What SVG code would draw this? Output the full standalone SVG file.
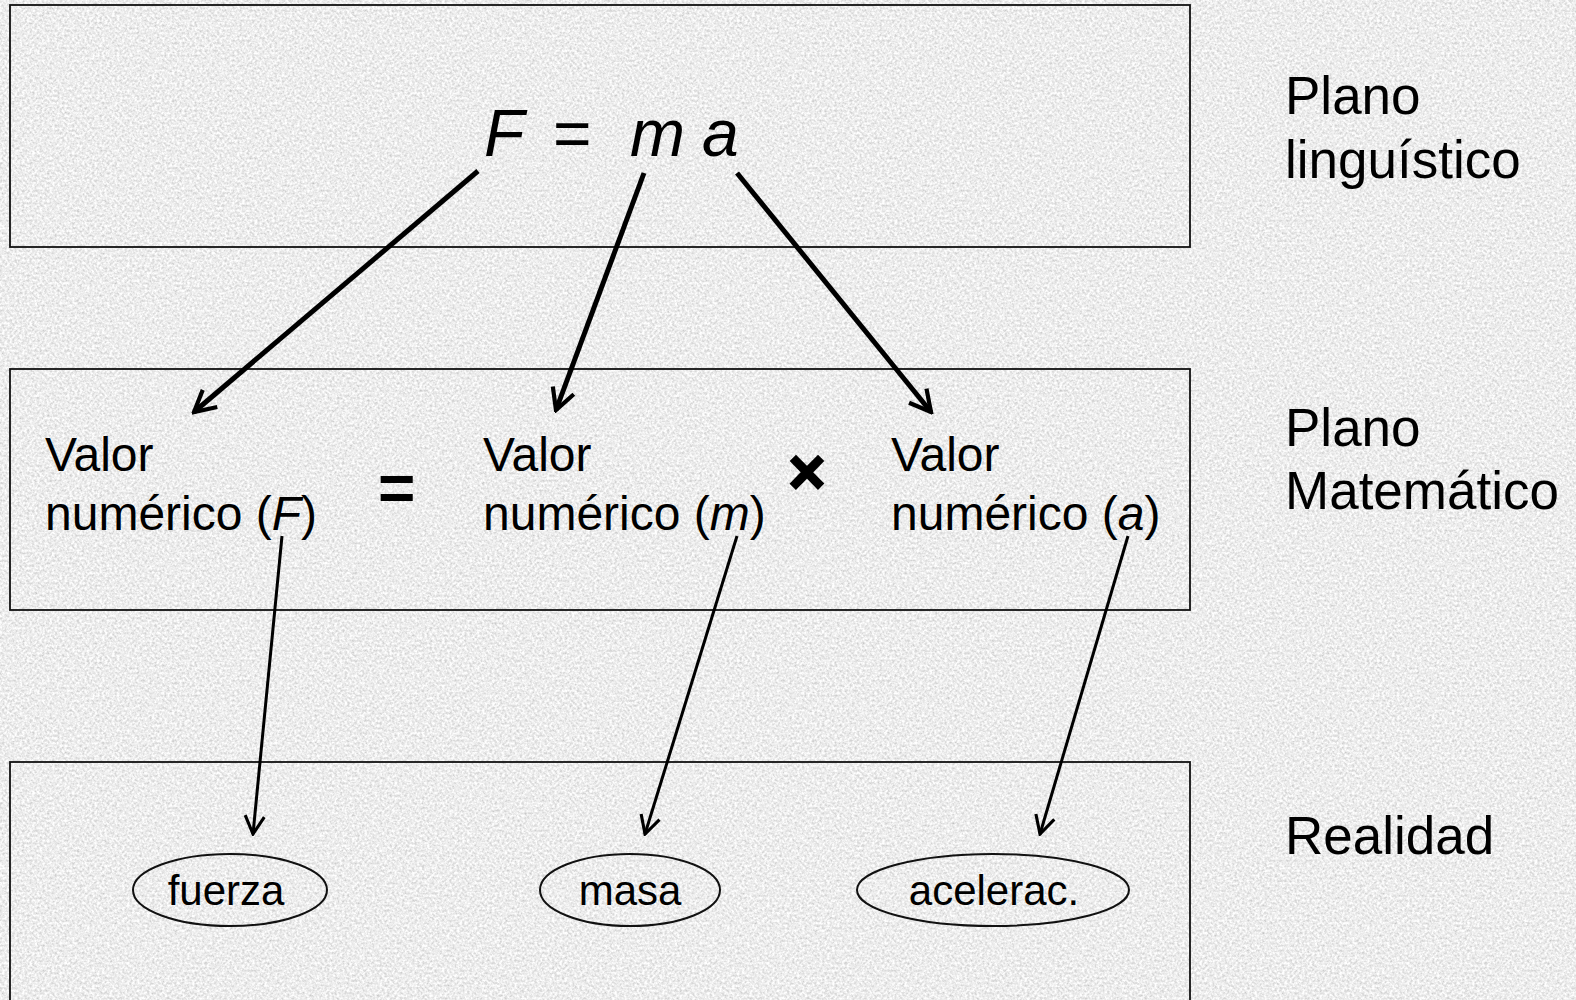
<svg xmlns="http://www.w3.org/2000/svg" width="1576" height="1000" viewBox="0 0 1576 1000">
<style>
.box{fill:none;stroke:#111;stroke-width:1.8}
.t{font-family:"Liberation Sans",Arial,sans-serif;fill:#000}
.lbl{font-size:53px}
.val{font-size:48px}
.ell{fill:none;stroke:#111;stroke-width:2}
.el{font-size:42px;text-anchor:middle}
.thick{fill:none;stroke:#000;stroke-width:5}
.thin{fill:none;stroke:#000;stroke-width:3}
</style>
<defs>
<filter id="grain" x="0" y="0" width="100%" height="100%" filterUnits="userSpaceOnUse">
<feTurbulence type="fractalNoise" baseFrequency="0.4" numOctaves="3" seed="7"/>
<feColorMatrix type="matrix" values="0.65 0 0 0 0.52  0.65 0 0 0 0.52  0.65 0 0 0 0.52  0 0 0 0 1"/>
</filter>
<marker id="ah" viewBox="0 0 20 20" refX="18" refY="10" markerWidth="28" markerHeight="28" markerUnits="userSpaceOnUse" orient="auto">
<path d="M3,2 L18,10 L3,18" fill="none" stroke="#000" stroke-width="3"/>
</marker>
<marker id="ahs" viewBox="0 0 20 20" refX="18" refY="10" markerWidth="24" markerHeight="24" markerUnits="userSpaceOnUse" orient="auto">
<path d="M3,2 L18,10 L3,18" fill="none" stroke="#000" stroke-width="2.6"/>
</marker>
</defs>
<rect x="0" y="0" width="1576" height="1000" fill="#dcdcdc"/>
<rect x="0" y="0" width="1576" height="1000" filter="url(#grain)"/>

<g id="plano-linguistico">
<rect class="box" x="10" y="5" width="1180" height="242"/>
<text class="t" font-size="66" y="156"><tspan x="484" font-style="italic">F</tspan><tspan x="553">=</tspan><tspan x="630" font-style="italic">m</tspan><tspan x="702" font-style="italic">a</tspan></text>
</g>
<g id="label-linguistico">
<text class="t lbl" x="1285" y="114">Plano</text>
<text class="t lbl" x="1285" y="178">linguístico</text>
</g>

<g id="plano-matematico">
<rect class="box" x="10" y="369" width="1180" height="241"/>
</g>
<g id="valor-F">
<text class="t val" x="45" y="471">Valor</text>
<text class="t val" x="45" y="530">numérico (<tspan font-style="italic">F</tspan>)</text>
</g>
<g id="op-eq">
<text class="t" x="378" y="510" font-size="64" font-weight="bold">=</text>
</g>
<g id="valor-m">
<text class="t val" x="483" y="471">Valor</text>
<text class="t val" x="483" y="530">numérico (<tspan font-style="italic">m</tspan>)</text>
</g>
<g id="op-times">
<text class="t" x="807" y="494" font-size="64" font-weight="bold" text-anchor="middle" stroke="#000" stroke-width="2">×</text>
</g>
<g id="valor-a">
<text class="t val" x="891" y="471">Valor</text>
<text class="t val" x="891" y="530">numérico (<tspan font-style="italic">a</tspan>)</text>
</g>
<g id="label-matematico">
<text class="t lbl" x="1285" y="446">Plano</text>
<text class="t lbl" x="1285" y="509">Matemático</text>
</g>

<g id="realidad">
<rect class="box" x="10" y="762" width="1180" height="250"/>
</g>
<g id="fuerza">
<ellipse class="ell" cx="230" cy="890" rx="97" ry="36"/>
<text class="t el" x="226" y="905">fuerza</text>
</g>
<g id="masa">
<ellipse class="ell" cx="630" cy="890" rx="90" ry="36"/>
<text class="t el" x="630" y="905">masa</text>
</g>
<g id="acelerac">
<ellipse class="ell" cx="993" cy="890" rx="136" ry="36"/>
<text class="t el" x="994" y="905">acelerac.</text>
</g>
<g id="label-realidad">
<text class="t lbl" x="1285" y="854">Realidad</text>
</g>

<g id="connectors">
<line class="thick" x1="478" y1="171" x2="194" y2="412" marker-end="url(#ah)"/>
<line class="thick" x1="644" y1="173" x2="556" y2="410" marker-end="url(#ah)"/>
<line class="thick" x1="737" y1="173" x2="931" y2="412" marker-end="url(#ah)"/>
<line class="thin" x1="282" y1="536" x2="253" y2="834" marker-end="url(#ahs)"/>
<line class="thin" x1="737" y1="536" x2="645" y2="834" marker-end="url(#ahs)"/>
<line class="thin" x1="1128" y1="536" x2="1040" y2="834" marker-end="url(#ahs)"/>
</g>
</svg>
